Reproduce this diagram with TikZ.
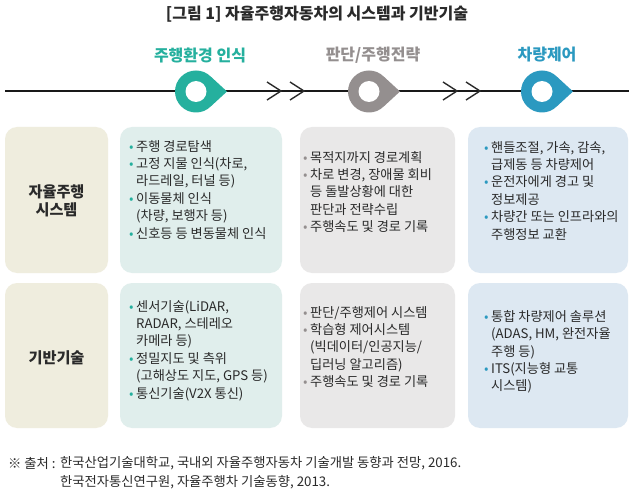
\documentclass[tikz,border=0pt]{standalone}
\usepackage{fontspec}
\setmainfont{Noto Sans CJK KR}
\usetikzlibrary{calc}
\definecolor{cteal}{HTML}{25B09E}
\definecolor{cgray}{HTML}{948F8F}
\definecolor{cblue}{HTML}{2B99C0}
\definecolor{bbeige}{HTML}{EFEDDE}
\definecolor{bteal}{HTML}{E0EEEC}
\definecolor{bgray}{HTML}{E9E8E8}
\definecolor{bblue}{HTML}{DDE8F2}
\definecolor{txt}{HTML}{2A2A2A}
\newcommand\bu[1]{\makebox[7pt][l]{\textcolor{#1}{•}}}
\newcommand\ind{\hspace*{7pt}}
\tikzset{
  box/.style={rounded corners=12pt},
  body/.style={align=left, inner sep=0pt, anchor=north west, text=txt,
    font=\fontsize{13.2}{17.4}\selectfont},
  rowlabel/.style={align=center, inner sep=0pt, text=txt,
    font=\bfseries\fontsize{15.2}{18.5}\selectfont},
  steplabel/.style={inner sep=0pt, font=\bfseries\fontsize{16}{18}\selectfont},
  chev/.style={line width=1.4pt, draw=txt},
  foot/.style={inner sep=0pt, anchor=west, text=txt, font=\fontsize{13.3}{15}\selectfont},
}
\newcommand\pin[3]{% name, x, colour
  \coordinate (#1) at (#2,91.5);
  \fill[#3] ($(#1)+(31,0)$) -- ($(#1)+(45:21)$) arc[start angle=45, delta angle=270, radius=21] -- cycle;
  \fill[white] (#1) circle[radius=10.5];
}
\begin{document}
\begin{tikzpicture}[x=1pt, y=-1pt]
\useasboundingbox (0,0) rectangle (633,495);
\fill[white] (0,0) rectangle (633,495);

% title
\node[inner sep=0pt, text=txt, font=\bfseries\fontsize{16}{18}\selectfont] (title) at (317,14) {[그림 1] 자율주행자동차의 시스템과 기반기술};

% step labels
\node[steplabel, text=cteal] (s1) at (200,55) {주행환경 인식};
\node[steplabel, text=cgray] (s2) at (373,55) {판단/주행전략};
\node[steplabel, text=cblue] (s3) at (547,55) {차량제어};

% timeline
\coordinate (L) at (5,91);
\coordinate (R) at (629,91);
\draw[line width=2.2pt, draw=black!90] (L) -- (R);

% chevrons
\foreach \cx in {267,290,443,466}{
  \draw[chev] (\cx,82) -- (\cx+14,91) -- (\cx,100);
}

% pins
\pin{p1}{196}{cteal}
\pin{p2}{369}{cgray}
\pin{p3}{542}{cblue}

% boxes row 1
\fill[bbeige, box] (5,127) rectangle (108,273);
\fill[bteal, box] (120,127) rectangle (282,273);
\fill[bgray, box] (300,127) rectangle (455,273);
\fill[bblue, box] (468,127) rectangle (628,273);
% boxes row 2
\fill[bbeige, box] (5,283) rectangle (108,428);
\fill[bteal, box] (120,283) rectangle (282,428);
\fill[bgray, box] (300,283) rectangle (455,428);
\fill[bblue, box] (468,283) rectangle (628,428);

% row labels
\node[rowlabel] (r1) at (56.5,201) {자율주행\\시스템};
\node[rowlabel] (r2) at (56.5,358) {기반기술};

% row 1 texts
\node[body] (t11) at (129,140) {\bu{cteal}주행 경로탐색\\
\bu{cteal}고정 지물 인식(차로,\\
\ind 라드레일, 터널 등)\\
\bu{cteal}이동물체 인식\\
\ind (차량, 보행자 등)\\
\bu{cteal}신호등 등 변동물체 인식};

\node[body] (t12) at (303,151) {\bu{cgray}목적지까지 경로계획\\
\bu{cgray}차로 변경, 장애물 회비\\
\ind 등 돌발상황에 대한\\
\ind 판단과 전략수립\\
\bu{cgray}주행속도 및 경로 기록};

\node[body] (t13) at (484,141) {\bu{cblue}핸들조절, 가속, 감속,\\
\ind 급제동 등 차량제어\\
\bu{cblue}운전자에게 경고 및\\
\ind 정보제공\\
\bu{cblue}차량간 또는 인프라와의\\
\ind 주행정보 교환};

% row 2 texts
\node[body] (t21) at (129,300) {\bu{cteal}센서기술(LiDAR,\\
\ind RADAR, 스테레오\\
\ind 카메라 등)\\
\bu{cteal}정밀지도 및 측위\\
\ind (고해상도 지도, GPS 등)\\
\bu{cteal}통신기술(V2X 통신)};

\node[body] (t22) at (303,306) {\bu{cgray}판단/주행제어 시스템\\
\bu{cgray}학습형 제어시스템\\
\ind (빅데이터/인공지능/\\
\ind 딥러닝 알고리즘)\\
\bu{cgray}주행속도 및 경로 기록};

\node[body] (t23) at (484,310) {\bu{cblue}통합 차량제어 솔루션\\
\ind (ADAS, HM, 완전자율\\
\ind 주행 등)\\
\bu{cblue}ITS(지능형 교통\\
\ind 시스템)};

% footnote
\node[foot] (f0) at (8,463) {※ 출처 :};
\node[foot] (f1) at (60,463) {한국산업기술대학교, 국내외 자율주행자동차 기술개발 동향과 전망, 2016.};
\node[foot] (f2) at (60,482) {한국전자통신연구원, 자율주행차 기술동향, 2013.};
\end{tikzpicture}
\end{document}
